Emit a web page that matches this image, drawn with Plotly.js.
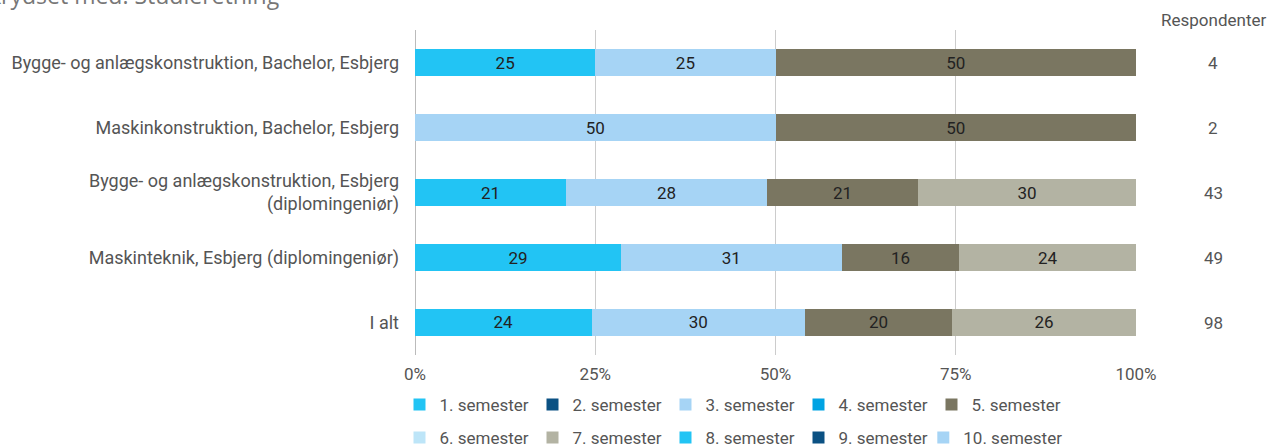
<!DOCTYPE html>
<html>
<head>
<meta charset="utf-8">
<script src="https://cdn.plot.ly/plotly-3.0.1.min.js"></script>
<style>html,body{margin:0;padding:0;background:#fff;overflow:hidden;}#chart{width:1273px;height:447px;}</style>
</head>
<body>
<div id="chart"></div>
<script>
const categories = [
  "Bygge- og anlægskonstruktion, Bachelor, Esbjerg",
  "Maskinkonstruktion, Bachelor, Esbjerg",
  "Bygge- og anlægskonstruktion, Esbjerg<br>(diplomingeniør)",
  "Maskinteknik, Esbjerg (diplomingeniør)",
  "I alt"
];
const respondents = [4, 2, 43, 49, 98];
const semesterNames = ["1. semester","2. semester","3. semester","4. semester","5. semester",
                       "6. semester","7. semester","8. semester","9. semester","10. semester"];
const sem1  = [25, 0, 20.93, 28.57, 24.49];
const sem2  = [0, 0, 0, 0, 0];
const sem3  = [25, 50, 27.91, 30.61, 29.59];
const sem4  = [0, 0, 0, 0, 0];
const sem5  = [50, 50, 20.93, 16.33, 20.41];
const sem6  = [0, 0, 0, 0, 0];
const sem7  = [0, 0, 30.23, 24.49, 25.51];
const sem8  = [0, 0, 0, 0, 0];
const sem9  = [0, 0, 0, 0, 0];
const sem10 = [0, 0, 0, 0, 0];
const seriesValues = [sem1, sem2, sem3, sem4, sem5, sem6, sem7, sem8, sem9, sem10];
const colors = ["#22c4f4","#0b5183","#a6d4f5","#00a3e3","#7a7661",
                "#bde5f8","#b3b3a3","#22c4f4","#0b5183","#a6d4f5"];
const xTicks = [0, 25, 50, 75, 100];

const FONT = "Roboto, 'Open Sans', sans-serif";

const traces = seriesValues.map((vals, i) => ({
  type: 'bar',
  orientation: 'h',
  name: semesterNames[i],
  y: categories,
  x: vals,
  marker: {color: colors[i], line: {width: 0}},
  text: vals.map(v => v > 0 ? String(Math.round(v)) : ''),
  textposition: 'inside',
  insidetextanchor: 'middle',
  textangle: 0,
  constraintext: 'none',
  textfont: {family: FONT, size: 17, color: '#222'},
  hoverinfo: 'name+x',
  legend: i < 5 ? 'legend' : (i < 9 ? 'legend2' : 'legend3')
}));

const annotations = categories.map((c, i) => ({
  xref: 'paper', yref: 'y', x: 1.107, y: c,
  text: String(respondents[i]), showarrow: false,
  xanchor: 'center', yanchor: 'middle',
  font: {family: FONT, size: 17, color: '#555'}
}));
annotations.push({
  xref: 'paper', yref: 'paper', x: 1.107, y: 1.03,
  text: 'Respondenter', showarrow: false, xanchor: 'center', yanchor: 'middle',
  font: {family: FONT, size: 17, color: '#555'}
});
annotations.push({
  xref: 'paper', yref: 'paper', x: -0.597, y: 1.108,
  text: 'Krydset med: Studieretning', showarrow: false, xanchor: 'left', yanchor: 'middle',
  font: {family: "'Open Sans', sans-serif", size: 23, color: '#777'}
});

const legendCommon = {
  orientation: 'h', xanchor: 'left', yanchor: 'middle',
  entrywidth: 88, entrywidthmode: 'pixels', traceorder: 'normal',
  font: {family: FONT, size: 17, color: '#555'}, bgcolor: 'rgba(0,0,0,0)',
  borderwidth: 0
};

const layout = {
  width: 1273, height: 447,
  margin: {l: 415, r: 137, t: 30, b: 92, pad: 0, autoexpand: false},
  paper_bgcolor: '#fff', plot_bgcolor: '#fff',
  barmode: 'stack',
  bargap: 0.57,
  showlegend: true,
  font: {family: FONT, size: 17, color: '#555'},
  xaxis: {
    range: [0, 100], tickvals: xTicks, ticktext: xTicks.map(v => v + '%'),
    showgrid: true, gridcolor: '#cccccc', gridwidth: 1,
    zeroline: false, showline: false, ticks: '',
    ticklabelstandoff: 7,
    tickfont: {family: FONT, size: 17, color: '#555'}, fixedrange: true,
    automargin: false
  },
  yaxis: {
    type: 'category', autorange: 'reversed',
    showgrid: false, zeroline: false, showline: false, ticks: '',
    ticklabelstandoff: 15,
    tickfont: {family: FONT, size: 18, color: '#555'}, fixedrange: true,
    automargin: false
  },
  shapes: [{
    type: 'line', xref: 'x', yref: 'paper', x0: 0, x1: 0, y0: 0, y1: 1,
    line: {color: '#bbbbbb', width: 2}, layer: 'below'
  }],
  legend: Object.assign({}, legendCommon, {x: -0.0215, y: -0.154}),
  legend2: Object.assign({}, legendCommon, {x: -0.0215, y: -0.255}),
  legend3: Object.assign({}, legendCommon, {x: 0.705, y: -0.255, entrywidth: 0}),
  annotations: annotations
};

Plotly.newPlot('chart', traces, layout, {displayModeBar: false, staticPlot: true});
</script>
</body>
</html>
